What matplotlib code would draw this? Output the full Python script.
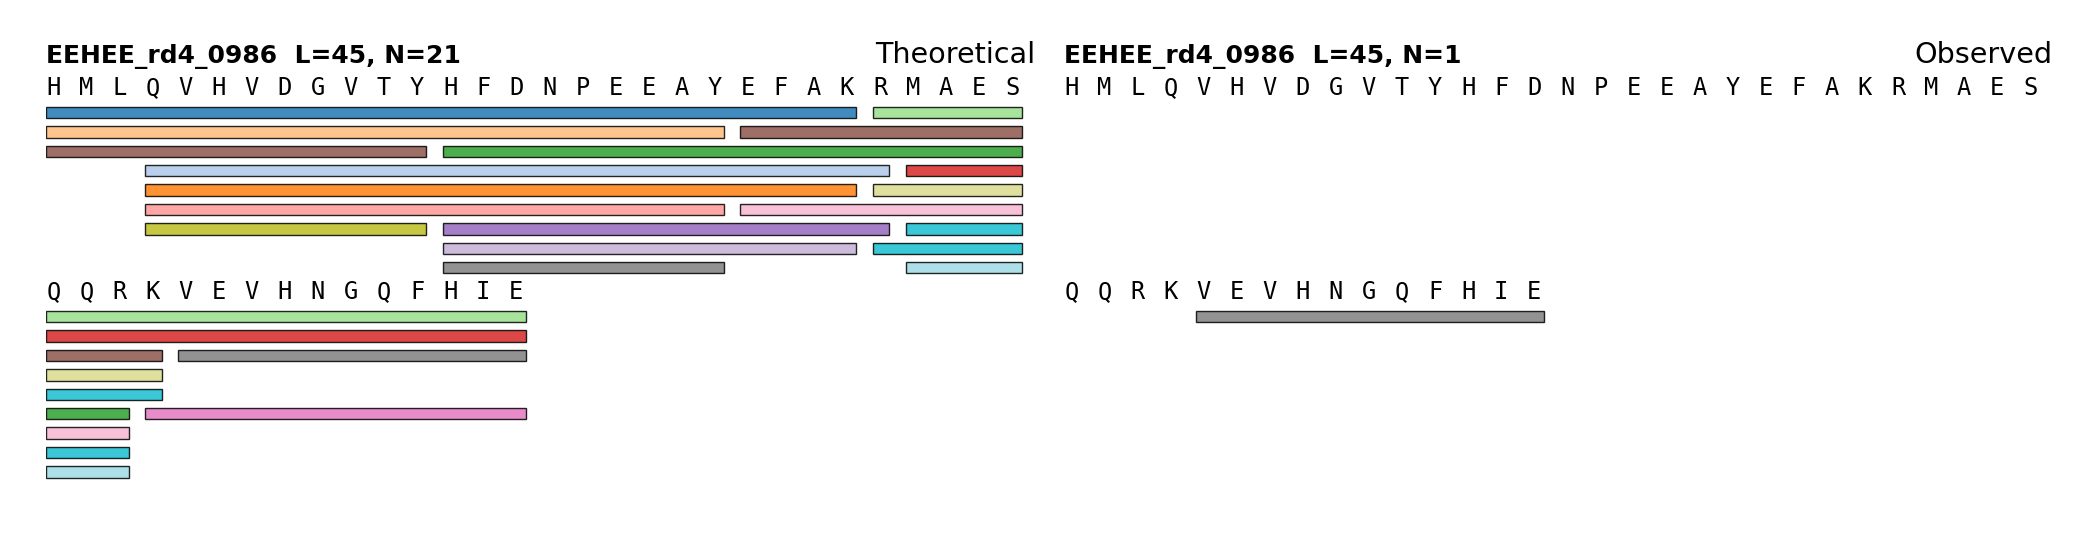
import matplotlib.pyplot as plt
from matplotlib.patches import Rectangle

# sequence and peptides (1-based, inclusive residue ranges)
name = "EEHEE_rd4_0986"
sequence = "HMLQVHVDGVTYHFDNPEEAYEFAKRMAESQQRKVEVHNGQFHIE"

theo_start = [1, 1, 1, 4, 4, 4, 4, 13, 13, 13, 13, 22, 22, 26, 26, 26, 27, 27, 27, 34, 35]
theo_end = [25, 21, 12, 26, 25, 21, 12, 33, 26, 25, 21, 34, 33, 45, 34, 33, 45, 34, 33, 45, 45]
theo_color = ['#1f77b4', '#ffbb78', '#8c564b', '#aec7e8', '#ff7f0e', '#ff9896', '#bcbd22',
              '#2ca02c', '#9467bd', '#c5b0d5', '#7f7f7f', '#8c564b', '#f7b6d2', '#98df8a',
              '#dbdb8d', '#17becf', '#d62728', '#17becf', '#9edae5', '#e377c2', '#7f7f7f']

obs_start = [35]
obs_end = [45]
obs_color = ['#7f7f7f']

L = len(sequence)
per_line = 30
n_lines = (L + per_line - 1) // per_line

# layout in pixels (figure 2100 x 540)
cell = 33.07
panel_x0 = [46, 1064]
title_y = 63.3
first_base = 95.0
bar_off = 11.7
bar_h = 11.4
pitch = 19.4
line_gap = 29.7


def pack(starts, ends, line):
    lo = line * per_line
    hi = lo + per_line
    segs = []
    for s, e, i in zip(starts, ends, range(len(starts))):
        s0, e0 = s - 1, e
        if e0 <= lo or s0 >= hi:
            continue
        segs.append((max(s0, lo), min(e0, hi), e0, s0, i))
    segs.sort(key=lambda t: (t[0], -t[2], t[3]))
    rows = []
    placed = []
    for cs, ce, e0, s0, i in segs:
        r = 0
        while r < len(rows) and rows[r] > cs:
            r += 1
        if r == len(rows):
            rows.append(ce)
        else:
            rows[r] = ce
        placed.append((cs - lo, ce - lo, r, i))
    return placed, len(rows)


panels = [
    (theo_start, theo_end, theo_color, "Theoretical"),
    (obs_start, obs_end, obs_color, "Observed"),
]

layouts = [[pack(p[0], p[1], l) for l in range(n_lines)] for p in panels]

# baseline of each sequence line, shared by both panels
bases = [first_base]
for l in range(n_lines - 1):
    nrows = max(lay[l][1] for lay in layouts)
    bases.append(bases[-1] + nrows * pitch + line_gap)

fig = plt.figure(figsize=(21, 5.4), dpi=100)

for k, (starts, ends, colors, label) in enumerate(panels):
    ax = fig.add_axes([panel_x0[k] / 2100, 0, per_line * cell / 2100, 1])
    ax.set_xlim(0, per_line)
    ax.set_ylim(540, 0)
    ax.axis('off')

    ax.text(0, title_y, f"{name}  L={L}, N={len(starts)}", fontsize=18,
            fontweight='bold', va='baseline', ha='left')
    ax.text(29.9, title_y, label, fontsize=20.6, va='baseline', ha='right')

    for l in range(n_lines):
        chunk = sequence[l * per_line:(l + 1) * per_line]
        for j, aa in enumerate(chunk):
            ax.text(j + 0.22, bases[l], aa, family='DejaVu Sans Mono',
                    fontsize=17, ha='center', va='baseline')
        placed, _ = layouts[k][l]
        for cs, ce, r, i in placed:
            y = bases[l] + bar_off + r * pitch
            ax.add_patch(Rectangle((cs, y), ce - cs - 0.5, bar_h,
                                   facecolor=colors[i], edgecolor='black',
                                   linewidth=1.0, alpha=0.85))

plt.savefig('out.png', dpi=100)
